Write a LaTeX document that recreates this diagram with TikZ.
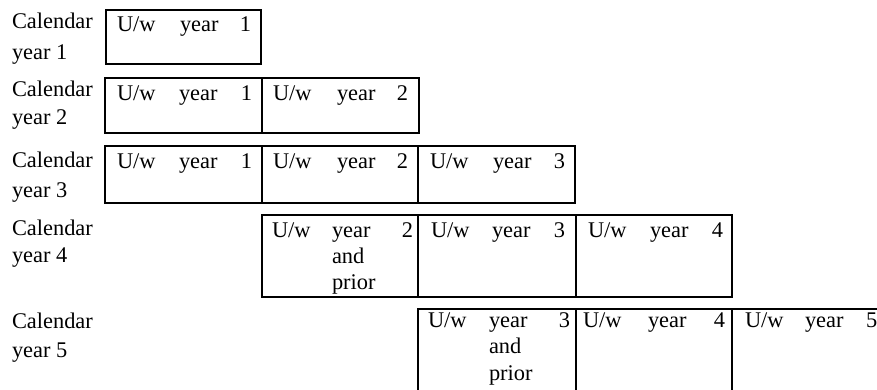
\documentclass[tikz,border=0pt]{standalone}
\usepackage{fontspec}
\setmainfont{Liberation Serif}
\begin{document}
\begin{tikzpicture}[x=0.5pt,y=-0.5pt,
  cellbox/.style={draw=black,line width=1.1pt},
  word/.style={inner sep=0pt,outer sep=0pt,font=\fontsize{11.2}{13}\selectfont,text=black},
  lw/.style={word,anchor=base west},
  le/.style={word,anchor=base east}]
\useasboundingbox (0,0) rectangle (877,390);
\fill[white] (0,0) rectangle (877,390);
\clip (0,0) rectangle (877,390);

% calendar-year labels
\node[lw] (cal1a) at (12,29)  {Calendar}; \node[lw] (cal1b) at (12,60)  {year 1};
\node[lw] (cal2a) at (12,97)  {Calendar}; \node[lw] (cal2b) at (12,125) {year 2};
\node[lw] (cal3a) at (12,167) {Calendar}; \node[lw] (cal3b) at (12,197) {year 3};
\node[lw] (cal4a) at (12,235) {Calendar}; \node[lw] (cal4b) at (12,262) {year 4};
\node[lw] (cal5a) at (12,328) {Calendar}; \node[lw] (cal5b) at (12,357) {year 5};

% row 1
\draw[cellbox] (106,10) rectangle (261,64);
\node[lw] (r1c1u) at (117,32) {U/w}; \node[lw] (r1c1y) at (180,32) {year}; \node[le] (r1c1n) at (251,32) {1};

% row 2
\draw[cellbox] (105,78) rectangle (262,133);
\draw[cellbox] (262,78) rectangle (419,133);
\node[lw] (r2c1u) at (117,100) {U/w}; \node[lw] (r2c1y) at (179,100) {year}; \node[le] (r2c1n) at (252,100) {1};
\node[lw] (r2c2u) at (273,100) {U/w}; \node[lw] (r2c2y) at (337,100) {year}; \node[le] (r2c2n) at (408,100) {2};

% row 3
\draw[cellbox] (105,146) rectangle (262,203);
\draw[cellbox] (262,146) rectangle (418,203);
\draw[cellbox] (418,146) rectangle (575,203);
\node[lw] (r3c1u) at (117,168) {U/w}; \node[lw] (r3c1y) at (179,168) {year}; \node[le] (r3c1n) at (252,168) {1};
\node[lw] (r3c2u) at (273,168) {U/w}; \node[lw] (r3c2y) at (337,168) {year}; \node[le] (r3c2n) at (408,168) {2};
\node[lw] (r3c3u) at (430,168) {U/w}; \node[lw] (r3c3y) at (493,168) {year}; \node[le] (r3c3n) at (565,168) {3};

% row 4
\draw[cellbox] (262,215) rectangle (418,297);
\draw[cellbox] (418,215) rectangle (576,297);
\draw[cellbox] (576,215) rectangle (732,297);
\node[lw] (r4c1u) at (272,237) {U/w}; \node[lw] (r4c1y) at (332,237) {year}; \node[le] (r4c1n) at (413,237) {2};
\node[lw] (r4c1a) at (332,263) {and}; \node[lw] (r4c1p) at (332,289) {prior};
\node[lw] (r4c2u) at (431,237) {U/w}; \node[lw] (r4c2y) at (492,237) {year}; \node[le] (r4c2n) at (565,237) {3};
\node[lw] (r4c3u) at (588,237) {U/w}; \node[lw] (r4c3y) at (650,237) {year}; \node[le] (r4c3n) at (723,237) {4};

% row 5 (runs past the right and bottom edges)
\draw[cellbox] (418,309) rectangle (576,420);
\draw[cellbox] (576,309) rectangle (732,420);
\draw[cellbox] (732,309) rectangle (920,420);
\node[lw] (r5c1u) at (428,327) {U/w}; \node[lw] (r5c1y) at (489,327) {year}; \node[le] (r5c1n) at (570,327) {3};
\node[lw] (r5c1a) at (489,353) {and}; \node[lw] (r5c1p) at (489,380) {prior};
\node[lw] (r5c2u) at (583,327) {U/w}; \node[lw] (r5c2y) at (648,327) {year}; \node[le] (r5c2n) at (725,327) {4};
\node[lw] (r5c3u) at (745,327) {U/w}; \node[lw] (r5c3y) at (805,327) {year}; \node[lw] (r5c3n) at (866,327) {5};
\end{tikzpicture}
\end{document}
